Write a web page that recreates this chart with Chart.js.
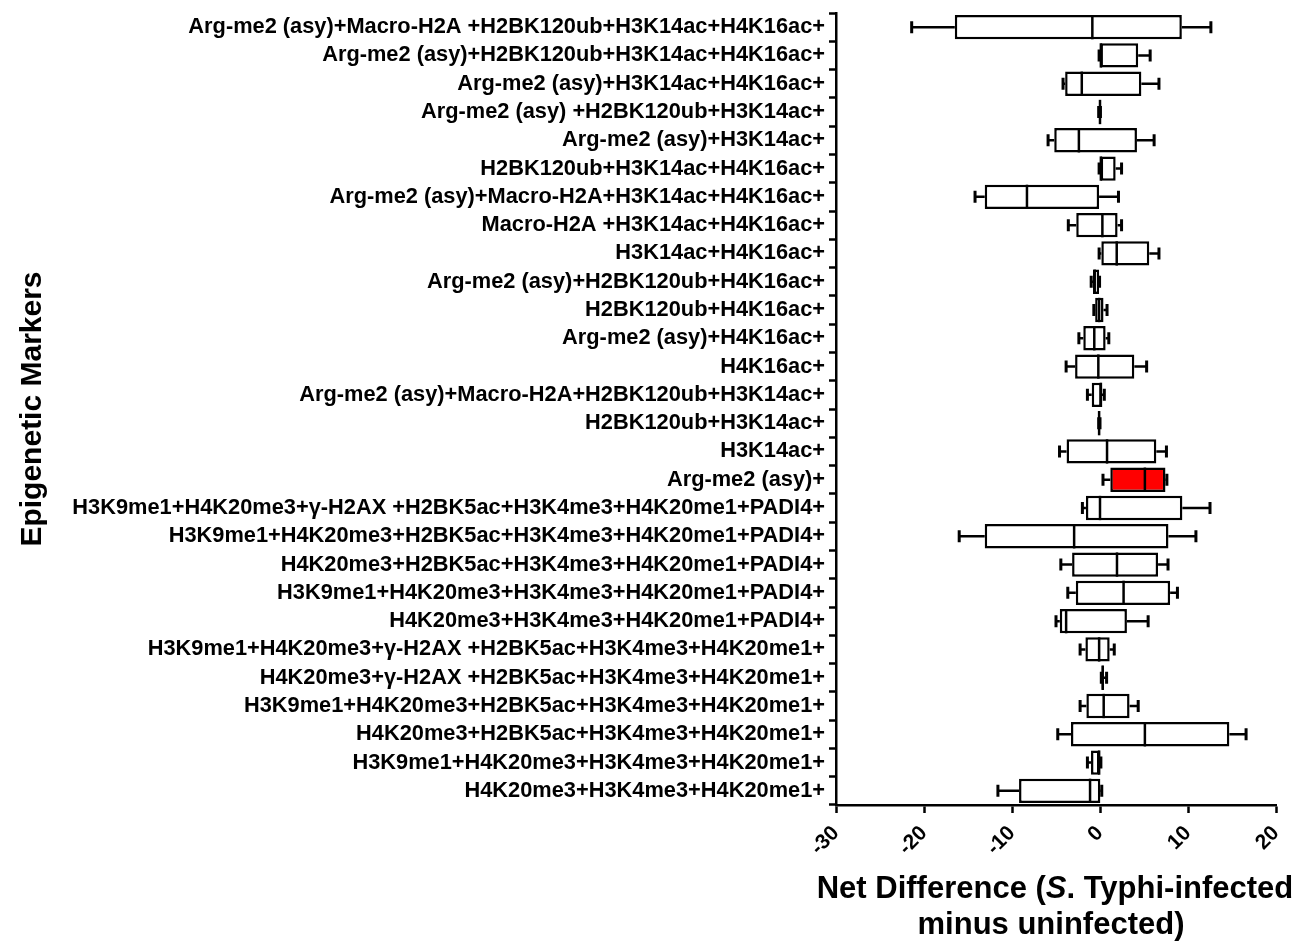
<!DOCTYPE html>
<html>
<head>
<meta charset="utf-8">
<script src="https://cdn.jsdelivr.net/npm/chart.js@4/dist/chart.umd.min.js"></script>
<style>
  html, body { margin: 0; padding: 0; background: #fff; }
  #wrap { width: 1316px; height: 944px; }
</style>
</head>
<body>
<div id="wrap"><canvas id="chart" width="1316" height="944"></canvas></div>
<script>
// Marker combinations, top to bottom
const markers = [
    "Arg-me2 (asy)+Macro-H2A +H2BK120ub+H3K14ac+H4K16ac+",
    "Arg-me2 (asy)+H2BK120ub+H3K14ac+H4K16ac+",
    "Arg-me2 (asy)+H3K14ac+H4K16ac+",
    "Arg-me2 (asy) +H2BK120ub+H3K14ac+",
    "Arg-me2 (asy)+H3K14ac+",
    "H2BK120ub+H3K14ac+H4K16ac+",
    "Arg-me2 (asy)+Macro-H2A+H3K14ac+H4K16ac+",
    "Macro-H2A +H3K14ac+H4K16ac+",
    "H3K14ac+H4K16ac+",
    "Arg-me2 (asy)+H2BK120ub+H4K16ac+",
    "H2BK120ub+H4K16ac+",
    "Arg-me2 (asy)+H4K16ac+",
    "H4K16ac+",
    "Arg-me2 (asy)+Macro-H2A+H2BK120ub+H3K14ac+",
    "H2BK120ub+H3K14ac+",
    "H3K14ac+",
    "Arg-me2 (asy)+",
    "H3K9me1+H4K20me3+γ-H2AX +H2BK5ac+H3K4me3+H4K20me1+PADI4+",
    "H3K9me1+H4K20me3+H2BK5ac+H3K4me3+H4K20me1+PADI4+",
    "H4K20me3+H2BK5ac+H3K4me3+H4K20me1+PADI4+",
    "H3K9me1+H4K20me3+H3K4me3+H4K20me1+PADI4+",
    "H4K20me3+H3K4me3+H4K20me1+PADI4+",
    "H3K9me1+H4K20me3+γ-H2AX +H2BK5ac+H3K4me3+H4K20me1+",
    "H4K20me3+γ-H2AX +H2BK5ac+H3K4me3+H4K20me1+",
    "H3K9me1+H4K20me3+H2BK5ac+H3K4me3+H4K20me1+",
    "H4K20me3+H2BK5ac+H3K4me3+H4K20me1+",
    "H3K9me1+H4K20me3+H3K4me3+H4K20me1+",
    "H4K20me3+H3K4me3+H4K20me1+"
];

// box plot values (net difference), same order as markers
const minVals = [-21.4, -0.1, -4.2, -0.15, -5.9, -0.1, -14.2, -3.6, -0.1, -1.0, -0.7, -2.4, -3.85, -1.43, -0.15, -4.6, 0.34, -2.0, -16.0, -4.45, -3.66, -5.0, -2.26, 0.15, -2.26, -4.8, -1.43, -11.6];
const q1Vals = [-16.5, 0.05, -3.96, -0.05, -5.2, 0.08, -13.1, -2.7, 0.15, -0.8, -0.55, -1.9, -2.83, -0.94, -0.12, -3.8, 1.17, -1.6, -13.1, -3.17, -2.75, -4.57, -1.66, 0.2, -1.55, -3.3, -1.02, -9.2];
const medianVals = [-0.87, 0.1, -2.07, 0, -2.4, 0.1, -8.3, 0.27, 1.9, -0.6, -0.1, -0.65, -0.19, 0.1, -0.1, 0.8, 5.1, 0, -2.94, 1.93, 2.68, -3.85, -0.1, 0.3, 0.42, 5.1, -0.1, -1.13];
const q3Vals = [9.3, 4.34, 4.7, 0.05, 4.2, 1.78, -0.1, 2.0, 5.6, -0.1, 0.4, 0.64, 3.9, 0.19, -0.05, 6.4, 7.44, 9.36, 7.78, 6.6, 7.97, 3.06, 1.1, 0.45, 3.36, 14.7, 0, 0.04];
const maxVals = [12.6, 5.7, 6.7, 0.05, 6.15, 2.45, 2.1, 2.45, 6.7, -0.05, 0.8, 1.0, 5.3, 0.49, 0, 7.55, 7.6, 12.5, 10.9, 7.73, 8.8, 5.47, 1.62, 0.75, 4.34, 16.6, 0.1, 0.2];

const xTicks = [-30, -20, -10, 0, 10, 20];
const highlighted = "Arg-me2 (asy)+";

const FONT = "'Liberation Sans', Arial, Helvetica, sans-serif";

// whiskers, caps and median lines, drawn through the chart scales
const whiskerPlugin = {
    id: "whiskers",
    afterDatasetsDraw(chart) {
        const ctx = chart.ctx;
        const xs = chart.scales.x;
        const ys = chart.scales.y;
        const meta = chart.getDatasetMeta(0);
        ctx.save();
        ctx.strokeStyle = "#000";
        ctx.lineCap = "butt";
        markers.forEach((m, i) => {
            const yc = ys.getPixelForValue(i);
            const half = meta.data[i].height / 2;
            const pMin = xs.getPixelForValue(minVals[i]);
            const pQ1 = xs.getPixelForValue(q1Vals[i]);
            const pMed = xs.getPixelForValue(medianVals[i]);
            const pQ3 = xs.getPixelForValue(q3Vals[i]);
            const pMax = xs.getPixelForValue(maxVals[i]);

            ctx.lineWidth = 2.5;
            ctx.beginPath();
            ctx.moveTo(pMin, yc); ctx.lineTo(pQ1, yc);
            ctx.moveTo(pQ3, yc); ctx.lineTo(pMax, yc);
            ctx.stroke();

            ctx.lineWidth = 3;
            ctx.beginPath();
            ctx.moveTo(pMin, yc - 6); ctx.lineTo(pMin, yc + 6);
            ctx.moveTo(pMax, yc - 6); ctx.lineTo(pMax, yc + 6);
            ctx.stroke();

            ctx.lineWidth = 2.5;
            ctx.beginPath();
            ctx.moveTo(pMed, yc - half); ctx.lineTo(pMed, yc + half);
            ctx.stroke();
        });
        ctx.restore();
    }
};

// x axis title with the italic S.
const xTitlePlugin = {
    id: "xTitle",
    afterDraw(chart) {
        const ctx = chart.ctx;
        const cx = 1055;
        const size = 31;
        const parts = [
            ["Net Difference (", "bold " + size + "px " + FONT],
            ["S", "italic bold " + size + "px " + FONT],
            [". Typhi-infected", "bold " + size + "px " + FONT]
        ];
        ctx.save();
        ctx.fillStyle = "#000";
        ctx.textBaseline = "alphabetic";
        ctx.textAlign = "left";
        let total = 0;
        parts.forEach(p => { ctx.font = p[1]; total += ctx.measureText(p[0]).width; });
        let x = cx - total / 2;
        parts.forEach(p => {
            ctx.font = p[1];
            ctx.fillText(p[0], x, 898);
            x += ctx.measureText(p[0]).width;
        });
        ctx.font = "bold " + size + "px " + FONT;
        ctx.textAlign = "center";
        ctx.fillText("minus uninfected)", cx - 4, 934);
        ctx.restore();
    }
};

const ctx = document.getElementById("chart");
new Chart(ctx, {
    type: "bar",
    data: {
        labels: markers,
        datasets: [{
            data: markers.map((m, i) => [q1Vals[i], q3Vals[i]]),
            backgroundColor: markers.map(m => m === highlighted ? "#ff0000" : "#ffffff"),
            borderColor: "#000",
            borderWidth: 2.5,
            borderSkipped: false,
            barPercentage: 0.86,
            categoryPercentage: 1
        }]
    },
    options: {
        indexAxis: "y",
        responsive: false,
        animation: false,
        layout: { padding: { top: 13, right: 40, bottom: 0, left: 0 } },
        plugins: {
            legend: { display: false },
            tooltip: { enabled: false }
        },
        scales: {
            x: {
                type: "linear",
                min: -30,
                max: 20,
                afterBuildTicks: s => { s.ticks = xTicks.map(v => ({ value: v })); },
                afterFit: s => { s.height = 139; },
                ticks: {
                    color: "#000",
                    font: { family: FONT, size: 21, weight: "bold" },
                    minRotation: 45,
                    maxRotation: 45,
                    padding: 8
                },
                grid: {
                    display: true,
                    drawOnChartArea: false,
                    drawTicks: true,
                    tickLength: 8,
                    tickWidth: 2.5,
                    tickColor: "#000"
                },
                border: { display: true, color: "#000", width: 2.5 }
            },
            y: {
                type: "category",
                afterFit: s => {
                    s.width = 836;
                    s.paddingTop = 0;
                    s.paddingBottom = 0;
                },
                ticks: {
                    color: "#000",
                    font: { family: FONT, size: 21.8, weight: "bold" },
                    padding: 4,
                    autoSkip: false
                },
                grid: {
                    display: true,
                    drawOnChartArea: false,
                    drawTicks: true,
                    tickLength: 7,
                    tickWidth: 2.5,
                    tickColor: "#000"
                },
                border: { display: true, color: "#000", width: 2.5 },
                title: {
                    display: true,
                    text: "Epigenetic Markers",
                    color: "#000",
                    font: { family: FONT, size: 30, weight: "bold" },
                    padding: { top: 15, bottom: 0 }
                }
            }
        }
    },
    plugins: [whiskerPlugin, xTitlePlugin]
});
</script>
</body>
</html>
